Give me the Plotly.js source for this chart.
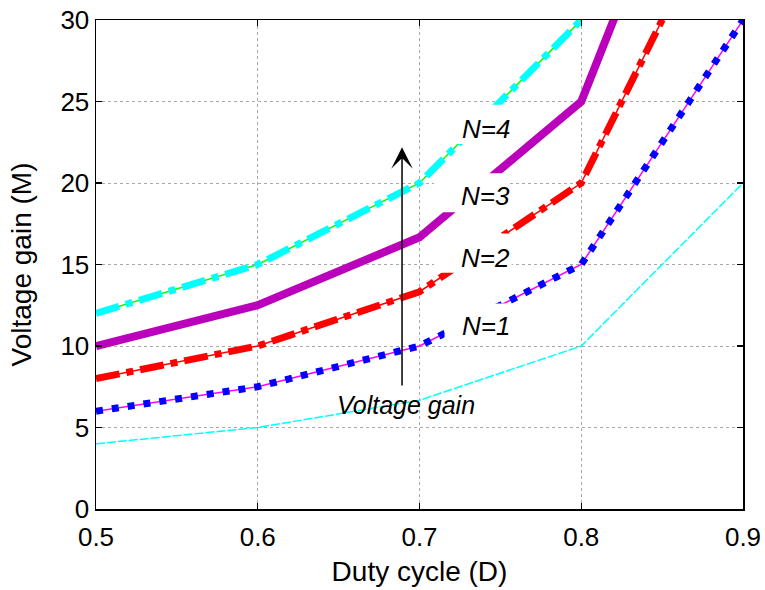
<!DOCTYPE html>
<html>
<head>
<meta charset="utf-8">
<script src="https://cdn.plot.ly/plotly-3.0.1.min.js"></script>
<style>html,body{margin:0;padding:0;background:#fff;}#chart{width:765px;height:590px;}</style>
</head>
<body>
<div id="chart"></div>
<script>
// Duty cycle values (x)
var duty = [0.5, 0.6, 0.7, 0.8, 0.9];
// Voltage gain series
var gainBase = [4, 5, 6.67, 10, 20];
var gainN1 = [6, 7.5, 10, 15, 30];
var gainN2 = [8, 10, 13.33, 20, 40];
var gainN3 = [10, 12.5, 16.67, 25, 50];
var gainN4 = [12, 15, 20, 30, 60];
var labelTexts = ['N=1', 'N=2', 'N=3', 'N=4'];
var xTickVals = [0.5, 0.6, 0.7, 0.8, 0.9];
var yTickVals = [0, 5, 10, 15, 20, 25, 30];

var FONT = 'Liberation Sans, Arial, Helvetica, sans-serif';

function line(y, color, width, dash) {
  return {x: duty, y: y, type: 'scatter', mode: 'lines', hoverinfo: 'skip', showlegend: false,
          line: {color: color, width: width, dash: dash || 'solid'}};
}

var traces = [
  line(gainBase, '#00FFFF', 1.5, '9px,2px'),
  line(gainN1, '#FF00FF', 1.5),
  line(gainN1, '#0000FF', 7, '7px,9px'),
  line(gainN2, '#FF0000', 1.5),
  line(gainN2, '#FF0000', 7, '24px,7px,7px,7px'),
  line(gainN3, '#BB00BB', 8),
  line(gainN4, '#00FF00', 1.5),
  line(gainN4, '#00FFFF', 7, '24px,7px,7px,7px')
];

// label boxes (white) and label positions
var boxes = [
  {x0: 0.7155, x1: 0.7560, y0: 10.3, y1: 12.6},
  {x0: 0.7090, x1: 0.7570, y0: 14.5, y1: 16.9},
  {x0: 0.7090, x1: 0.7540, y0: 18.2, y1: 20.6},
  {x0: 0.7165, x1: 0.7560, y0: 22.4, y1: 24.8}
];
var labelY = [11.2, 15.4, 19.2, 23.3];

var shapes = boxes.map(function (b) {
  return {type: 'rect', xref: 'x', yref: 'y', x0: b.x0, x1: b.x1, y0: b.y0, y1: b.y1,
          fillcolor: '#FFFFFF', line: {width: 0}, layer: 'above'};
});

var annotations = labelTexts.map(function (t, i) {
  return {x: 0.7411, y: labelY[i], xref: 'x', yref: 'y', text: '<i>' + t + '</i>', showarrow: false,
          xanchor: 'center', yanchor: 'middle', font: {family: FONT, size: 26, color: '#000'}};
});
annotations.push({x: 0.6917, y: 6.4, xref: 'x', yref: 'y', text: '<i>Voltage gain</i>', showarrow: false,
  xanchor: 'center', yanchor: 'middle', font: {family: FONT, size: 25, color: '#000'}});
annotations.push({x: 0.6892, y: 22.2, ax: 0.6892, ay: 7.48, xref: 'x', yref: 'y', axref: 'x', ayref: 'y',
  text: '', showarrow: true, arrowhead: 3, arrowsize: 2.4, arrowwidth: 1.5, arrowcolor: '#000'});

var axisCommon = {
  showgrid: true, gridcolor: '#a8a8a8', griddash: 'dot', gridwidth: 1,
  showline: true, linecolor: '#000', linewidth: 1.5, mirror: 'ticks',
  ticks: 'inside', ticklen: 6, tickwidth: 1.2, tickcolor: '#000',
  zeroline: false, tickfont: {family: FONT, size: 26, color: '#000'}
};

var layout = {
  width: 765, height: 590,
  margin: {l: 96, r: 22, t: 20, b: 81},
  paper_bgcolor: '#fff', plot_bgcolor: '#fff',
  xaxis: Object.assign({}, axisCommon, {
    range: [0.5, 0.9], tickvals: xTickVals, tickformat: '.1f', ticklabelstandoff: 4,
    title: {text: 'Duty cycle (D)', font: {family: FONT, size: 28, color: '#000'}, standoff: 10}
  }),
  yaxis: Object.assign({}, axisCommon, {
    range: [0, 30], tickvals: yTickVals,
    title: {text: 'Voltage gain (M)', font: {family: FONT, size: 28, color: '#000'}, standoff: 20}
  }),
  shapes: shapes,
  annotations: annotations
};

Plotly.newPlot('chart', traces, layout, {displayModeBar: false, staticPlot: true});
</script>
</body>
</html>
